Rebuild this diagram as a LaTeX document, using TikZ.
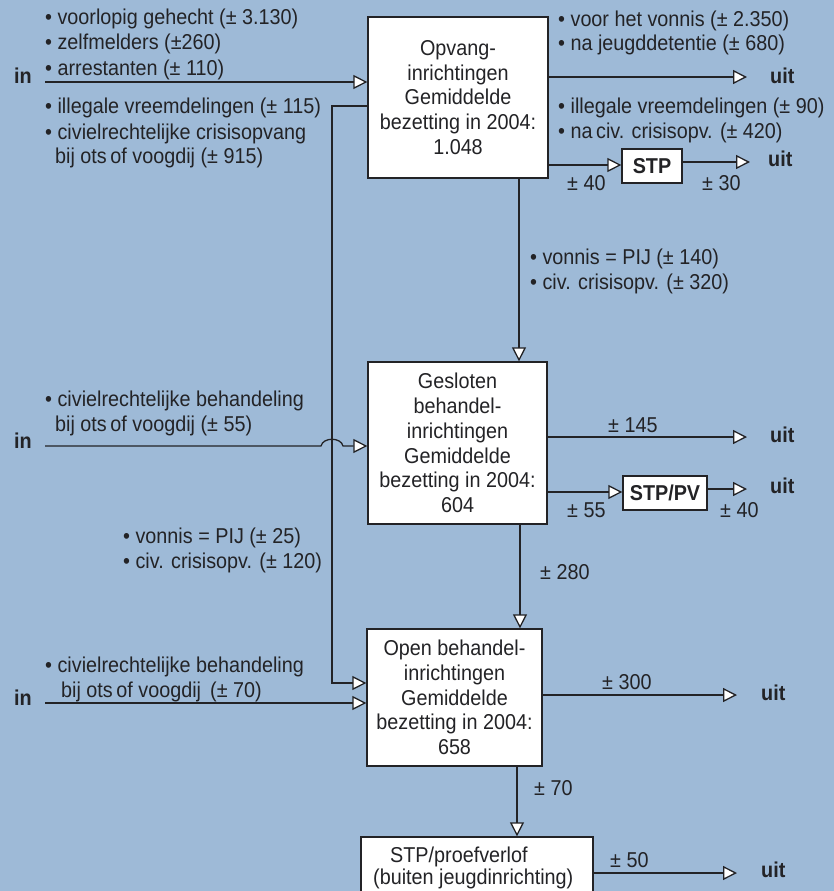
\documentclass[tikz,border=0pt]{standalone}
\usepackage{fontspec}
\setmainfont[FakeStretch=0.92]{Liberation Sans}
\usetikzlibrary{arrows.meta}
\definecolor{bg}{RGB}{158,186,215}
\definecolor{ink}{RGB}{35,35,38}
\begin{document}
\begin{tikzpicture}[x=1pt,y=-1pt,
  txt/.style={font=\fontsize{21.5}{24}\selectfont, text=ink, inner sep=0pt, anchor=base west},
  boxn/.style={draw=ink, fill=white, line width=1.3pt, align=center, font=\fontsize{21.5}{24.7}\selectfont, text=ink, inner sep=0pt},
  smallbox/.style={draw=ink, fill=white, line width=1.3pt, font=\bfseries\fontsize{21.5}{24}\selectfont, text=ink, inner sep=0pt},
  arr/.style={draw=ink, line width=1.3pt, -{Triangle[fill=white, length=14pt, width=14pt]}},
  uitn/.style={font=\bfseries\fontsize{21.5}{24}\selectfont, text=ink, inner sep=0pt, anchor=base west}
]
\fill[bg] (0,0) rectangle (834,891);
\clip (0,0) rectangle (834,891);

% boxes
\node[boxn, minimum width=180pt, minimum height=161pt] (box1) at (458,97.5)
  {Opvang-\\inrichtingen\\Gemiddelde\\bezetting in 2004:\\1.048};
\node[boxn, minimum width=179pt, minimum height=162pt] (box2) at (457.5,443)
  {Gesloten\\behandel-\\inrichtingen\\Gemiddelde\\bezetting in 2004:\\604};
\node[boxn, minimum width=175pt, minimum height=137pt] (box3) at (454.5,697.5)
  {Open behandel-\\inrichtingen\\Gemiddelde\\bezetting in 2004:\\658};
\node[boxn, minimum width=232pt, minimum height=63pt] (box4) at (477,868.5) {};
\node[txt] (b4a) at (390,862) {STP/proefverlof};
\node[txt] (b4b) at (373,884) {(buiten jeugdinrichting)};
\node[smallbox, minimum width=60pt, minimum height=34pt] (stp) at (652,166) {STP};
\node[smallbox, minimum width=84pt, minimum height=34pt] (stppv) at (665,493) {STP/PV};

% "in" labels
\node[uitn] (in1) at (14,83) {in};
\node[uitn] (in2) at (14,448) {in};
\node[uitn] (in3) at (14,705) {in};

% "uit" labels
\node[uitn] (u1) at (770,83) {uit};
\node[uitn] (u2) at (768,166) {uit};
\node[uitn] (u3) at (770,442) {uit};
\node[uitn] (u4) at (770,493) {uit};
\node[uitn] (u5) at (761,700) {uit};
\node[uitn] (u6) at (761,877) {uit};

% coordinates for free ends
\coordinate (s1) at (45,82);
\coordinate (s2) at (45,446);
\coordinate (s3) at (45,703);
\coordinate (e1) at (747,77);
\coordinate (e2) at (750,162);
\coordinate (e3) at (747,437);
\coordinate (e4) at (747,489);
\coordinate (e5) at (737,695);
\coordinate (e6) at (737,873);
\coordinate (c1) at (332,106);
\coordinate (c2) at (332,683);

% inputs
\draw[arr] (s1) -- (box1.west |- s1);
\draw[arr] (s2) -- (321,446) .. controls (323,437) and (341,437) .. (343,446) -- (box2.west |- s2);
\draw[arr] (s3) -- (box3.west |- s3);
\draw[arr] (box1.west |- c1) -- (c1) -- (c2) -- (box3.west |- c2);

% outputs
\draw[arr] (box1.east |- e1) -- (e1);
\draw[arr] (box1.east |- 0,165) -- (stp.west |- 0,165);
\draw[arr] (stp.east |- e2) -- (e2);
\draw[arr] (box2.east |- e3) -- (e3);
\draw[arr] (box2.east |- 0,492) -- (stppv.west |- 0,492);
\draw[arr] (stppv.east |- e4) -- (e4);
\draw[arr] (box3.east |- e5) -- (e5);
\draw[arr] (box4.east |- e6) -- (e6);

% downwards
\draw[arr] (box1.south -| 519,0) -- (box2.north -| 519,0);
\draw[arr] (box2.south -| 520,0) -- (box3.north -| 520,0);
\draw[arr] (box3.south -| 517,0) -- (box4.north -| 517,0);

% left texts
\node[txt] (t1) at (45,25) {• voorlopig gehecht (± 3.130)};
\node[txt] (t2) at (45,50) {• zelfmelders (±260)};
\node[txt] (t3) at (45,75) {• arrestanten (± 110)};
\node[txt] (t4) at (45,113) {• illegale vreemdelingen (± 115)};
\node[txt] (t5) at (45,139) {• civielrechtelijke crisisopvang};
\node[txt] (t6) at (55,163) {bij ots\,of voogdij (± 915)};

\node[txt] (t7) at (45,406) {• civielrechtelijke behandeling};
\node[txt] (t8) at (55,431) {bij ots\,of voogdij (± 55)};
\node[txt] (t9) at (123,543) {• vonnis = PIJ (± 25)};
\node[txt] (t10) at (123,568) {• civ. crisisopv. (± 120)};
\node[txt] (t11) at (45,672) {• civielrechtelijke behandeling};
\node[txt] (t12) at (61,697) {bij ots\,of voogdij \,(± 70)};

% right texts
\node[txt] (r1) at (558,27) {• voor het vonnis (± 2.350)};
\node[txt] (r2) at (558,51) {• na jeugddetentie (± 680)};
\node[txt] (r3) at (558,113) {• illegale vreemdelingen (± 90)};
\node[txt] (r4) at (558,138) {• na\,civ. crisisopv. (± 420)};
\node[txt] (r5) at (567,190) {± 40};
\node[txt] (r6) at (702,190) {± 30};
\node[txt] (r7) at (530,264) {• vonnis = PIJ (± 140)};
\node[txt] (r8) at (530,289) {• civ. crisisopv. (± 320)};
\node[txt] (r9) at (608,432) {± 145};
\node[txt] (r10) at (567,517) {± 55};
\node[txt] (r11) at (720,517) {± 40};
\node[txt] (r12) at (540,579) {± 280};
\node[txt] (r13) at (602,689) {± 300};
\node[txt] (r14) at (534,795) {± 70};
\node[txt] (r15) at (610,867) {± 50};
\end{tikzpicture}
\end{document}
